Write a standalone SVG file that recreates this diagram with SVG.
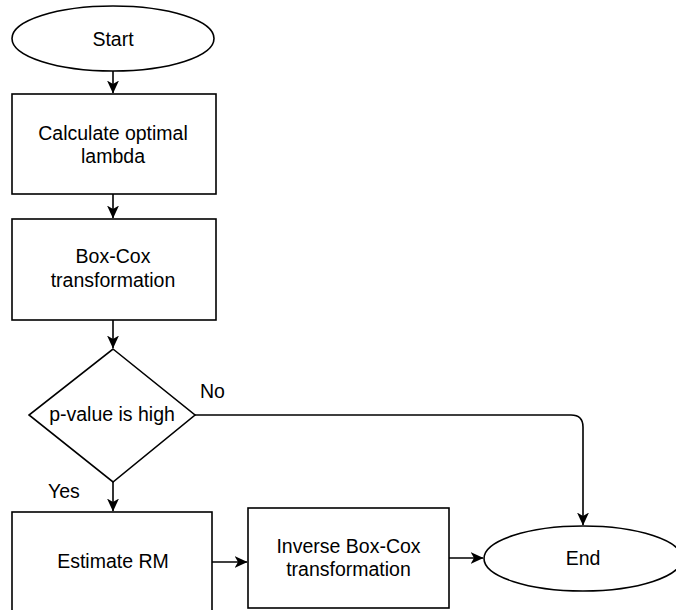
<svg xmlns="http://www.w3.org/2000/svg" width="676" height="610" viewBox="0 0 676 610">
<defs>
<style>
.s{fill:#fff;stroke:#000;stroke-width:1.6}
.t{font-family:"Liberation Sans",Arial,Helvetica,sans-serif;font-size:19.5px;fill:#000;text-anchor:middle}
.l{font-family:"Liberation Sans",Arial,Helvetica,sans-serif;font-size:19.5px;fill:#000}
.c{fill:none;stroke:#000;stroke-width:1.6}
</style>
<marker id="a" viewBox="0 0 13 12" refX="12.5" refY="6" markerWidth="13" markerHeight="12" markerUnits="userSpaceOnUse" orient="auto">
<path d="M0,0 L13,6 L0,12 L3.5,6 Z" fill="#000"/>
</marker>
</defs>
<rect width="676" height="610" fill="#fff"/>
<g id="connectors">
<path class="c" d="M113,71 V93" marker-end="url(#a)"/>
<path class="c" d="M113,194 V218" marker-end="url(#a)"/>
<path class="c" d="M113,320 V348" marker-end="url(#a)"/>
<path class="c" d="M195,415 H571 Q583,415 583,427 V525" marker-end="url(#a)"/>
<text class="l" x="200" y="398">No</text>
<path class="c" d="M113,482 V511" marker-end="url(#a)"/>
<text class="l" x="48" y="498">Yes</text>
<path class="c" d="M212,562 H247" marker-end="url(#a)"/>
<path class="c" d="M449,558 H483" marker-end="url(#a)"/>
</g>
<g id="start">
<ellipse class="s" cx="113" cy="38.5" rx="101" ry="32.5"/>
<text class="t" x="113" y="46">Start</text>
</g>
<g id="calc">
<rect class="s" x="12" y="94" width="204" height="100"/>
<text class="t" x="113" y="140">Calculate optimal</text>
<text class="t" x="113" y="163">lambda</text>
</g>
<g id="boxcox">
<rect class="s" x="12" y="219" width="204" height="101"/>
<text class="t" x="113" y="263">Box-Cox</text>
<text class="t" x="113" y="287">transformation</text>
</g>
<g id="decision">
<polygon class="s" points="113,349 195,415 113,482 29,415"/>
<text class="t" x="112" y="421">p-value is high</text>
</g>
<g id="estimate">
<rect class="s" x="12" y="512" width="200" height="102"/>
<text class="t" x="113" y="568">Estimate RM</text>
</g>
<g id="inverse">
<rect class="s" x="248" y="508" width="201" height="100"/>
<text class="t" x="348.5" y="553">Inverse Box-Cox</text>
<text class="t" x="348.5" y="576">transformation</text>
</g>
<g id="end">
<ellipse class="s" cx="583" cy="558.5" rx="99" ry="32.5"/>
<text class="t" x="583" y="565">End</text>
</g>
</svg>
